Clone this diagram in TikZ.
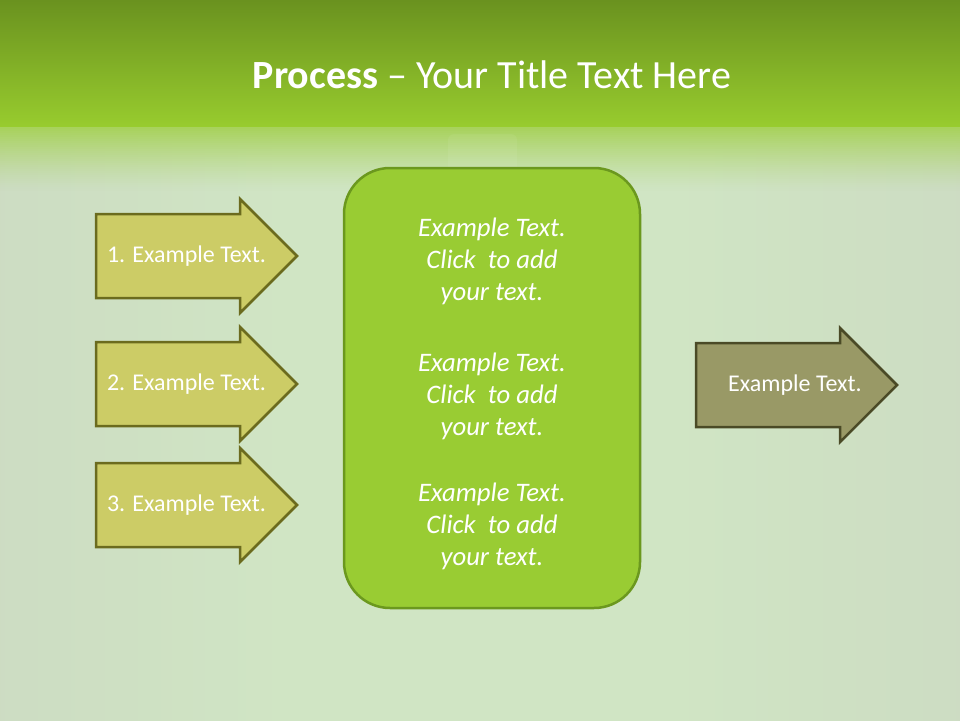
\documentclass[tikz,border=0pt]{standalone}
\usepackage{fontspec}
\setmainfont{Carlito}
\usetikzlibrary{shadings,calc}
\definecolor{bgmid}{HTML}{D0E5C4}
\definecolor{bgedge}{HTML}{C7CEC0}
\definecolor{bandtop}{HTML}{6A921F}
\definecolor{bandbot}{HTML}{98CC2E}
\definecolor{fadetop}{HTML}{A8D25C}
\definecolor{larrowfill}{HTML}{CCCC66}
\definecolor{larrowline}{HTML}{6B6B1E}
\definecolor{rarrowfill}{HTML}{999966}
\definecolor{rarrowline}{HTML}{4A4A26}
\definecolor{boxfill}{HTML}{99CC33}
\definecolor{boxline}{HTML}{6B981E}
\pgfdeclarehorizontalshading{bgshade}{100bp}{color(0bp)=(bgedge); color(18bp)=(bgedge!55!bgmid); color(40bp)=(bgmid); color(60bp)=(bgmid); color(82bp)=(bgedge!55!bgmid); color(100bp)=(bgedge)}
\tikzset{
  leftarrow/.style={fill=larrowfill,draw=larrowline,line width=2.5pt,line join=miter},
  rightarrow/.style={fill=rarrowfill,draw=rarrowline,line width=2.5pt,line join=miter},
  centerbox/.style={fill=boxfill,draw=boxline,line width=2.5pt,rounded corners=46pt},
  lbl/.style={text=white,font=\fontsize{24}{28}\selectfont,inner sep=0pt},
  ctext/.style={text=white,font=\fontsize{26.7}{32}\selectfont\itshape,align=center,inner sep=0pt},
}
\newcommand\myarrow[3]{%
  \draw[#1] (#2,#3-42) -- (#2+144,#3-42) -- (#2+144,#3-57) -- (#2+201,#3)
    -- (#2+144,#3+57) -- (#2+144,#3+42) -- (#2,#3+42) -- cycle;}
\begin{document}
\begin{tikzpicture}[x=1pt,y=-1pt]
\useasboundingbox (0,0) rectangle (960,720);
% background
\shade[shading=bgshade] (0,0) rectangle (960,720);
\shade[top color=bandtop,bottom color=bandbot] (0,0) rectangle (960,127);
\foreach \i in {0,...,31}{
  \pgfmathsetmacro\op{(1-\i/32)^1.3}
  \fill[fadetop,opacity=\op] (0,127+2*\i) rectangle (960,129+2*\i);
}
\fill[white,opacity=0.06,rounded corners=6pt] (448,134) rectangle (517,175);
% title
\node[text=white,font=\fontsize{40}{48}\selectfont,anchor=base,inner sep=0pt] (title) at (492,88)
  {\textbf{Process} – Your Title Text Here};
% center box
\draw[centerbox] (344,168) rectangle (640,608);
% arrows
\myarrow{leftarrow}{96}{256}
\myarrow{leftarrow}{96}{384}
\myarrow{leftarrow}{96}{505}
\myarrow{rightarrow}{696}{385}
\node[lbl] (a1) at (186.5,256) {1. Example Text.};
\node[lbl] (a2) at (186.5,384) {2. Example Text.};
\node[lbl] (a3) at (186.5,505) {3. Example Text.};
\node[lbl] (r1) at (795,385) {Example Text.};
% center texts
\node[ctext] (c1) at (492,261) {Example Text.\\Click~ to add\\your text.};
\node[ctext] (c2) at (492,396) {Example Text.\\Click~ to add\\your text.};
\node[ctext] (c3) at (492,526) {Example Text.\\Click~ to add\\your text.};
\end{tikzpicture}
\end{document}
